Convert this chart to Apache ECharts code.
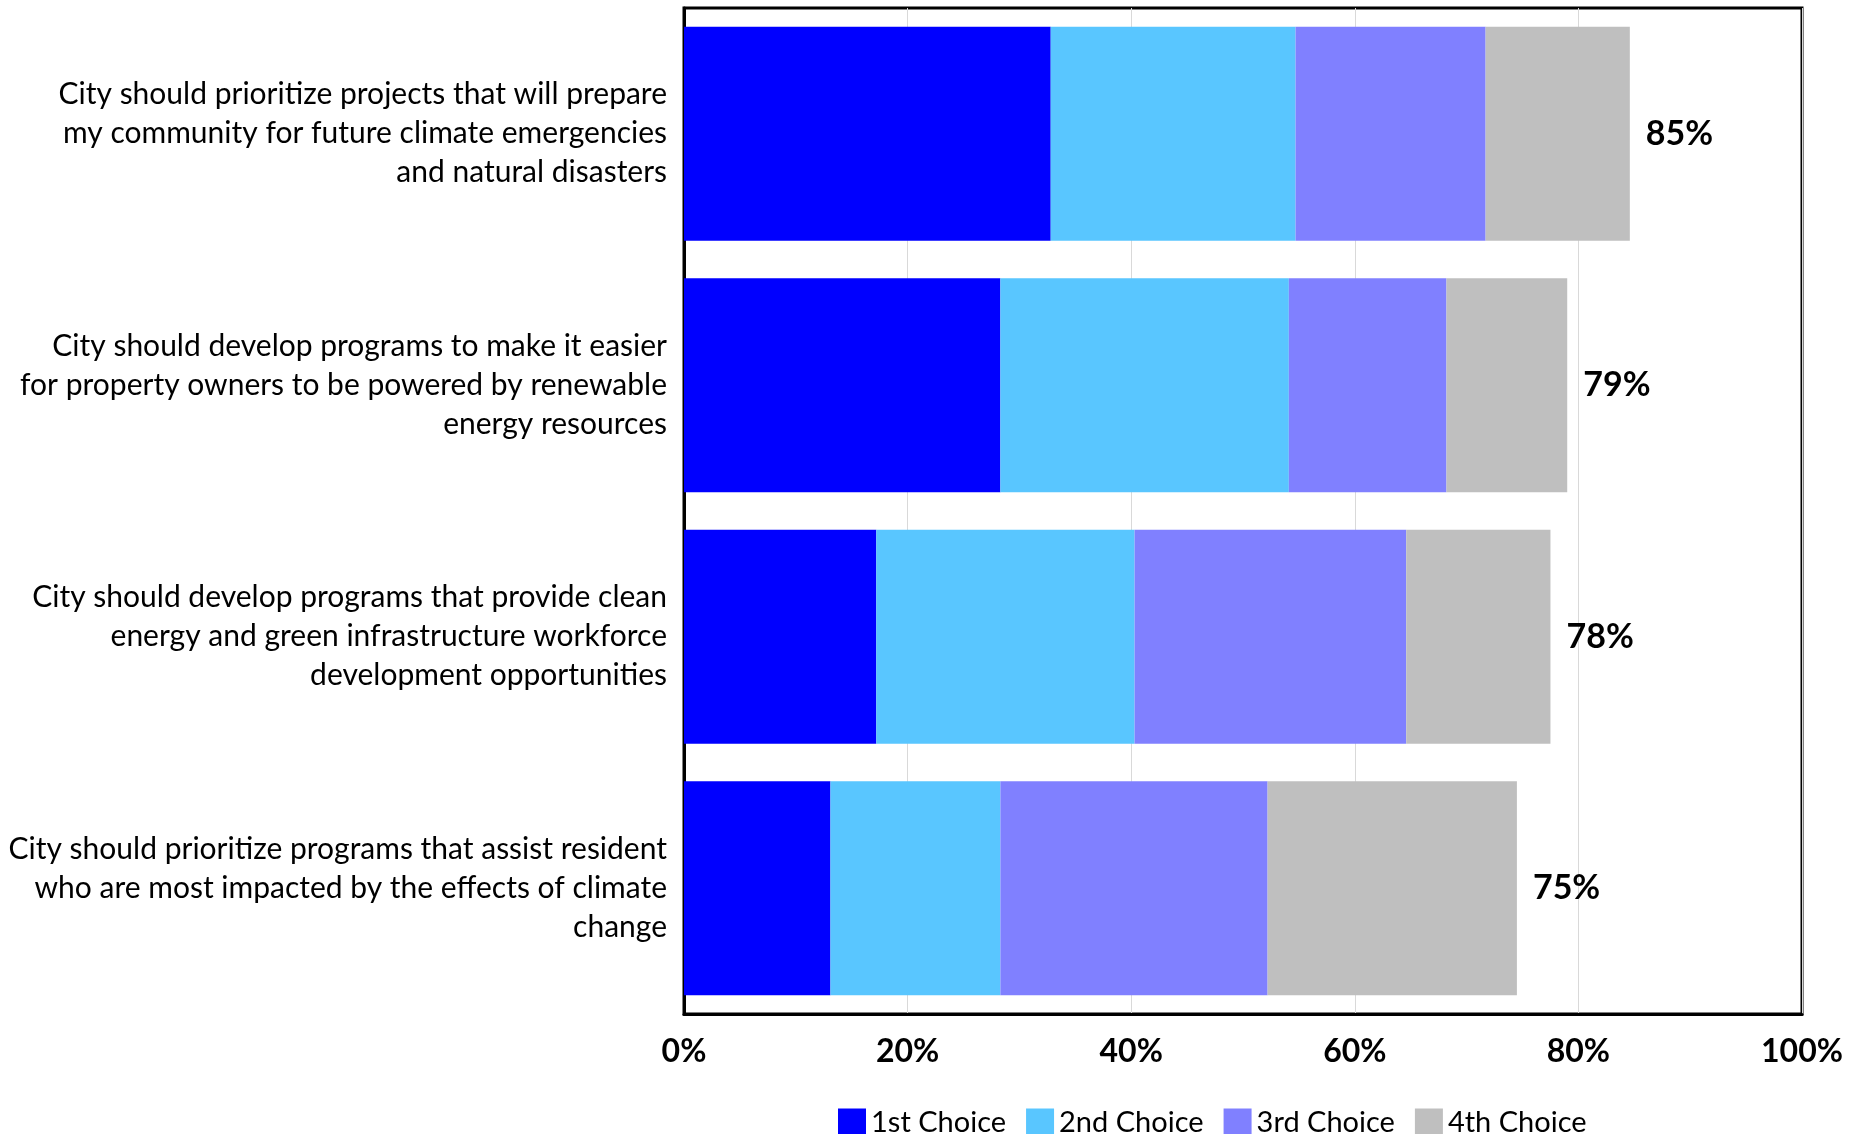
<!DOCTYPE html>
<html>
<head>
<meta charset="utf-8">
<script src="https://cdn.jsdelivr.net/npm/echarts@6/dist/echarts.min.js"></script>
<style>
html,body{margin:0;padding:0;background:#fff;}
#chart{width:1867px;height:1134px;}
</style>
</head>
<body>
<div id="chart"></div>
<script>
const categories = [
  'City should prioritize projects that will prepare\nmy community for future climate emergencies\nand natural disasters',
  'City should develop programs to make it easier\nfor property owners to be powered by renewable\nenergy resources',
  'City should develop programs that provide clean\nenergy and green infrastructure workforce\ndevelopment opportunities',
  'City should prioritize programs that assist resident\nwho are most impacted by the effects of climate\nchange'
];
const seriesNames = ['1st Choice', '2nd Choice', '3rd Choice', '4th Choice'];
const first = [32.8, 28.3, 17.2, 13.1];
const second = [21.9, 25.8, 23.1, 15.2];
const third = [17.0, 14.1, 24.3, 23.9];
const fourth = [12.9, 10.8, 12.9, 22.3];
const totalLabels = ['85%', '79%', '78%', '75%'];
const xTicks = [0, 20, 40, 60, 80, 100];
const colors = ['#0000FF', '#59C6FF', '#8080FF', '#BFBFBF'];

const FONT = 'Lato, "Open Sans", sans-serif';
const values = [first, second, third, fourth];

const series = seriesNames.map((name, i) => ({
  name: name,
  type: 'bar',
  stack: 'total',
  barCategoryGap: '15%',
  itemStyle: { color: colors[i] },
  data: values[i],
  z: 2
}));
series.push({
  name: 'Total',
  type: 'bar',
  stack: 'total',
  data: first.map(() => 0),
  itemStyle: { color: 'transparent' },
  label: {
    show: true,
    position: 'right',
    distance: 16,
    formatter: p => totalLabels[p.dataIndex],
    fontFamily: FONT,
    fontWeight: 'bold',
    fontSize: 34,
    color: '#000'
  },
  z: 3
});

const chart = echarts.init(document.getElementById('chart'), null, { renderer: 'canvas' });
chart.setOption({
  backgroundColor: '#fff',
  animation: false,
  grid: {
    left: 684, right: 65, top: 8, bottom: 120,
    show: true, borderColor: '#000', borderWidth: 3, backgroundColor: 'transparent',
    containLabel: false
  },
  legend: {
    data: seriesNames,
    left: 833,
    top: 1103,
    itemWidth: 28,
    itemHeight: 28,
    itemGap: 20,
    icon: 'rect',
    textStyle: { fontFamily: FONT, fontSize: 29, color: '#000' }
  },
  xAxis: {
    type: 'value',
    min: xTicks[0],
    max: xTicks[xTicks.length - 1],
    interval: 20,
    axisLine: { show: true, lineStyle: { color: '#000', width: 3 } },
    axisTick: { show: false },
    splitLine: { show: true, lineStyle: { color: '#D9D9D9', width: 1 } },
    axisLabel: {
      formatter: '{value}%',
      fontFamily: FONT,
      fontWeight: 'bold',
      fontSize: 32,
      color: '#000',
      margin: 22
    }
  },
  yAxis: {
    type: 'category',
    inverse: true,
    data: categories,
    axisLine: { show: true, lineStyle: { color: '#000', width: 3 } },
    axisTick: { show: false },
    axisLabel: {
      fontFamily: FONT,
      fontSize: 30,
      lineHeight: 39,
      color: '#000',
      align: 'right',
      margin: 17,
      padding: [0, 0, 24, 0]
    }
  },
  series: series
});
</script>
</body>
</html>
